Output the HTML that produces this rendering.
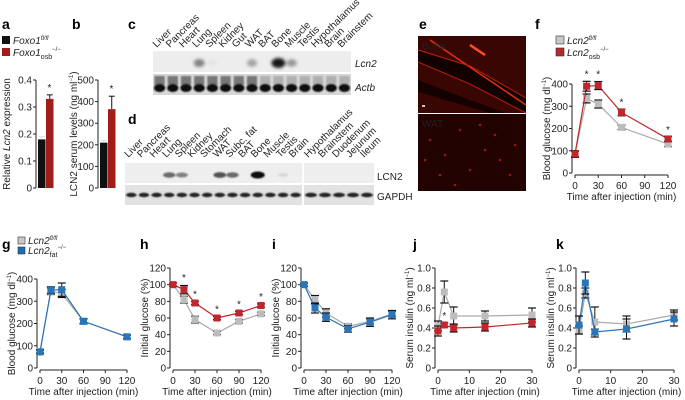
<!DOCTYPE html>
<html><head><meta charset="utf-8"><style>
html,body{margin:0;padding:0;background:#fff}
svg{display:block;font-family:"Liberation Sans",Arial,sans-serif}
.t{font-size:10px;fill:#222}
.pl{font-size:14px;font-weight:bold;fill:#000}
</style></head><body>
<svg id="fig" width="685" height="400" viewBox="0 0 685 400" xmlns="http://www.w3.org/2000/svg">
<defs>
<filter id="bl" x="-50%" y="-50%" width="200%" height="200%"><feGaussianBlur stdDeviation="1.6"/></filter>
<filter id="bl2" x="-50%" y="-50%" width="200%" height="200%"><feGaussianBlur stdDeviation="0.8"/></filter>
</defs>
</svg>
<script>
// ---- data ----
const aValues=[0.18,0.33]; const aErr=[0.01,0.015];
const bValues=[210,365]; const bErr=[10,60];
const cLanes=["Liver","Pancreas","Heart","Lung","Spleen","Kidney","Gut","WAT","BAT","Bone","Muscle","Testis","Hypothalamus","Brain","Brainstem"];
const cLcn2=[0,0,0,0.5,0.05,0,0,0.35,0,1,0.4,0,0,0,0];
const dLanes1=["Liver","Pancreas","Heart","Lung","Spleen","Kidney","Stomach","WAT","Subc. fat","BAT","Bone","Muscle","Testis","Brain"];
const dLanes2=["Hypothalamus","Brainstem","Duodenum","Jejunum","Ileum"];
const dLcn2=[0,0,0,0.6,0.5,0,0,0.7,0.6,0,1,0,0.1,0];
const fTimes=[0,15,30,60,120];
const fGrey=[85,335,310,205,130]; const fGreyErr=[12,20,18,10,12];
const fRed=[85,390,393,272,153]; const fRedErr=[15,22,18,15,12];
const gGrey=[75,345,335,210,140]; const gGreyErr=[8,15,18,10,8];
const gBlue=[72,350,352,210,140]; const gBlueErr=[8,15,30,12,8];
const hTimes=[0,15,30,60,90,120];
const hGrey=[100,82,58,42,56,65]; const hGreyErr=[2,4,4,2,2,2];
const hRed=[100,94,78,60,66,75]; const hRedErr=[2,5,2,2,2,2];
const iGrey=[100,82,66,50,56,65]; const iGreyErr=[2,5,5,3,3,3];
const iBlue=[100,72,61,47,55,64]; const iBlueErr=[2,6,5,4,5,5];
const jTimes=[0,2,5,15,30];
const jGrey=[0.42,0.76,0.52,0.52,0.53]; const jGreyErr=[0.05,0.11,0.09,0.05,0.07];
const jRed=[0.37,0.43,0.40,0.41,0.45]; const jRedErr=[0.05,0.02,0.04,0.04,0.04];
const kGrey=[0.38,0.75,0.46,0.44,0.53]; const kGreyErr=[0.04,0.05,0.15,0.08,0.05];
const kBlue=[0.43,0.85,0.36,0.39,0.49]; const kBlueErr=[0.09,0.11,0.03,0.1,0.07];

const NS="http://www.w3.org/2000/svg";
const svg=document.getElementById('fig');
function el(tag,attrs,parent,txt){const e=document.createElementNS(NS,tag);for(const k in attrs)e.setAttribute(k,attrs[k]);if(txt!==undefined)e.textContent=txt;(parent||svg).appendChild(e);return e;}
function text(x,y,s,opt,parent){opt=opt||{};const e=el('text',{x:x,y:y,'class':opt.cls||'t','text-anchor':opt.anchor||'start'},parent,s);if(opt.fill)e.setAttribute('fill',opt.fill);if(opt.rot!==undefined)e.setAttribute('transform','rotate('+opt.rot+' '+x+' '+y+')');if(opt.size)e.setAttribute('font-size',opt.size);if(opt.italic)e.setAttribute('font-style','italic');return e;}
function letter(x,y,s){const e=text(x,y,s,{cls:'pl'});

}
function line(x1,y1,x2,y2,st,w,p){return el('line',{x1:x1,y1:y1,x2:x2,y2:y2,stroke:st||'#222','stroke-width':w||1},p);}

function yAxis(g,x,ticks,ys,labFmt){line(x,ys(ticks[0]),x,ys(ticks[ticks.length-1]),'#222',1,g);ticks.forEach(t=>{line(x-3,ys(t),x,ys(t),'#222',1,g);text(x-4,ys(t)+3.5,labFmt?labFmt(t):String(t),{anchor:'end'},g);});}
function xAxis(g,y,ticks,xs){line(xs(ticks[0]),y,xs(ticks[ticks.length-1]),y,'#222',1,g);ticks.forEach(t=>{line(xs(t),y,xs(t),y+3,'#222',1,g);text(xs(t),y+14,String(t),{anchor:'middle'},g);});}

// ---------- Panel a ----------
letter(2,29,'a');
(function(){const g=el('g',{});
 const y0=188,y1=80,ys=v=>y0-(v/0.4)*(y0-y1);
 const cols=['#111','#a21c1a'];const bx=[38,46];
 aValues.forEach((v,i)=>{const r=el('rect',{x:bx[i],y:ys(v),width:7.5,height:y0-ys(v),fill:cols[i]},g);
  
  const cx=bx[i]+3.75;line(cx,ys(v),cx,ys(v+aErr[i]),i?'#111':'#ddd',1,g);line(cx-3,ys(v+aErr[i]),cx+3,ys(v+aErr[i]),i?'#111':'#ddd',1,g);});
 text(49.5,ys(0.33+0.015)-4,'*',{anchor:'middle'},g);
 yAxis(g,36,[0,0.1,0.2,0.3,0.4],ys,t=>t===0?'0':t.toFixed(1));
 const yl=text(10,134,'',{anchor:'middle',rot:-90},g);yl.innerHTML='Relative <tspan font-style="italic">Lcn2</tspan> expression';
 el('rect',{x:2,y:36,width:8,height:8,fill:'#111'},g);el('rect',{x:2,y:48,width:8,height:8,fill:'#a21c1a'},g);
 const l1=text(13,44,'',{},g);l1.innerHTML='<tspan font-style="italic">Foxo1</tspan><tspan font-size="6" dy="-4" font-style="italic">fl/fl</tspan>';
 const l2=text(13,56,'',{},g);l2.innerHTML='<tspan font-style="italic">Foxo1</tspan><tspan font-size="7" dy="3">osb</tspan><tspan font-size="6" dy="-8">−/−</tspan>';
})();

// ---------- Panel b ----------
letter(72,29,'b');
(function(){const g=el('g',{});
 const y0=188,y1=80,ys=v=>y0-(v/500)*(y0-y1);const cols=['#111','#a21c1a'];const bx=[100,108];
 bValues.forEach((v,i)=>{const r=el('rect',{x:bx[i],y:ys(v),width:7.5,height:y0-ys(v),fill:cols[i]},g);
  
  const cx=bx[i]+3.75;line(cx,ys(v),cx,ys(v+bErr[i]),i?'#111':'#ddd',1,g);line(cx-3,ys(v+bErr[i]),cx+3,ys(v+bErr[i]),i?'#111':'#ddd',1,g);});
 text(111.5,ys(365+60)-4,'*',{anchor:'middle'},g);
 yAxis(g,98,[0,100,200,300,400,500],ys);
 const yl=text(77,134,'',{anchor:'middle',rot:-90},g);yl.innerHTML='LCN2 serum levels (ng ml<tspan font-size="6" dy="-4">−1</tspan><tspan dy="4">)</tspan>';
})();

// ---------- Panel c ----------
letter(128,29,'c');
(function(){const g=el('g',{});
 const x0=153,x1=351,w=(x1-x0)/cLanes.length;
 el('rect',{x:x0,y:51,width:x1-x0,height:21,fill:'#ededed'},g);
 el('rect',{x:x0,y:74,width:x1-x0,height:21,fill:'#d8d8d8'},g);
 cLanes.forEach((n,i)=>{const cx=x0+w*i+w/2;
  text(cx-3,48,n,{rot:-45,fill:n==='Bone'?'#d2322d':'#222'},g);
  if(cLcn2[i]>0){el('ellipse',{cx:cx,cy:63,rx:4+3*cLcn2[i],ry:3+2*cLcn2[i],fill:'#000','fill-opacity':Math.min(1,cLcn2[i]*0.9),filter:'url(#bl)'},g);}
  el('rect',{x:cx-w/2+1.5,y:76,width:w-3,height:9,fill:'#555',filter:'url(#bl2)','fill-opacity':i<8?0.75:0.3},g);
  el('ellipse',{cx:cx,cy:88,rx:w/2-1,ry:4,fill:'#111',filter:'url(#bl2)'},g);
 });
 text(355,67,'Lcn2',{italic:true},g);text(355,91,'Actb',{italic:true},g);
})();

// ---------- Panel d ----------
letter(128,124,'d');
(function(){const g=el('g',{});
 const segs=[[125,302,dLanes1],[304,374,dLanes2]];
 segs.forEach((s,si)=>{const [x0,x1,lanes]=s,w=(x1-x0)/lanes.length;
  el('rect',{x:x0,y:163,width:x1-x0,height:20,fill:'#eeeeee'},g);
  el('rect',{x:x0,y:185,width:x1-x0,height:20,fill:'#e2e2e2'},g);
  lanes.forEach((n,i)=>{const cx=x0+w*i+w/2;
   text(cx-3,158,n,{rot:-45,fill:n==='Bone'?'#d2322d':'#222'},g);
   const v=si===0?dLcn2[i]:0;
   if(v>0)el('ellipse',{cx:cx,cy:175,rx:5+2*v,ry:1.5+2*v,fill:'#111','fill-opacity':v,filter:'url(#bl2)'},g);
   el('ellipse',{cx:cx,cy:195,rx:w/2-1,ry:2.2,fill:'#222',filter:'url(#bl2)'},g);
  });});
 text(377,180,'LCN2',{},g);text(377,200,'GAPDH',{},g);
})();

// ---------- Panel e ----------
letter(419,29,'e');
(function(){const g=el('g',{});
 el('rect',{x:418,y:36,width:108,height:77,fill:'#3a0603'},g);
 el('path',{d:'M418 62 L470 84 L526 113 L526 98 L470 66 L418 50Z',fill:'#120100'},g);
 el('path',{d:'M418 80 L470 100 L505 113 L490 113 L418 92Z',fill:'#150100'},g);
 el('path',{d:'M430 40 L526 105',stroke:'#e0300f','stroke-width':1.5,fill:'none'},g);
 el('path',{d:'M470 45 L485 55',stroke:'#ff5020','stroke-width':2.5,fill:'none'},g);
 el('path',{d:'M418 50 L470 66 L526 98',stroke:'#c0200c','stroke-width':1,fill:'none'},g);
 el('path',{d:'M418 62 L470 84 L526 113',stroke:'#b01c0a','stroke-width':1,fill:'none'},g);
 line(422,106,425,106,'#fff',1.5,g);
 text(422,49,'Bone',{fill:'#ddd'},g);
 el('rect',{x:418,y:114,width:108,height:77,fill:'#220301'},g);
 [[430,140],[445,155],[470,170],[500,160],[510,175],[460,130],[485,150],[440,175],[425,160],[495,135],[515,145],[455,185],[480,125]].forEach(p=>el('circle',{cx:p[0],cy:p[1],r:1.3,fill:'#9a1808'},g));
 text(422,127,'WAT',{fill:'#ddd'},g);
})();

function lineChart(name,cfg){const g=el('g',{});
 const xs=v=>cfg.x0+(v-cfg.xt[0])/(cfg.xt[cfg.xt.length-1]-cfg.xt[0])*(cfg.x1-cfg.x0);
 const ys=v=>cfg.y0-(v-cfg.yt[0])/(cfg.yt[cfg.yt.length-1]-cfg.yt[0])*(cfg.y0-cfg.y1);
 yAxis(g,cfg.x0-3,cfg.yt,ys,cfg.fmt);
 xAxis(g,cfg.y0+2,cfg.xt,xs);
 text((cfg.x0+cfg.x1)/2,cfg.y0+27,'Time after injection (min)',{anchor:'middle'},g);
 const yl=text(cfg.x0-25,(cfg.y0+cfg.y1)/2,'',{anchor:'middle',rot:-90},g);yl.innerHTML=cfg.ylab;
 cfg.series.forEach(s=>{const sg=el('g',{},g);
  const pts=s.vals.map((v,i)=>xs(cfg.times[i])+','+ys(v)).join(' ');
  el('polyline',{points:pts,fill:'none',stroke:s.line,'stroke-width':1.2},sg);
  s.vals.forEach((v,i)=>{const x=xs(cfg.times[i]),y=ys(v),e=s.err[i];
   line(x,ys(v-e),x,ys(v+e),'#111',1,sg);line(x-4,ys(v+e),x+4,ys(v+e),'#111',1.2,sg);line(x-4,ys(v-e),x+4,ys(v-e),'#111',1.2,sg);
   const m=el('rect',{x:x-3.5,y:y-3.5,width:7,height:7,fill:s.fill},sg);
   });
 });
 (cfg.stars||[]).forEach(st=>text(xs(st[0]),ys(st[1])-2,'*',{anchor:'middle'},g));
 return g;}

letter(535,29,'f');
(function(){const g=el('g',{});
 el('rect',{x:556,y:36,width:8,height:8,fill:'#c8c8c8',stroke:'#333','stroke-width':0.6},g);
 el('rect',{x:556,y:48,width:8,height:8,fill:'#b5282c',stroke:'#333','stroke-width':0.6},g);
 const l1=text(567,44,'',{},g);l1.innerHTML='<tspan font-style="italic">Lcn2</tspan><tspan font-size="6" dy="-4" font-style="italic">fl/fl</tspan>';
 const l2=text(567,56,'',{},g);l2.innerHTML='<tspan font-style="italic">Lcn2</tspan><tspan font-size="7" dy="3">osb</tspan><tspan font-size="6" dy="-8">−/−</tspan>';})();
lineChart('panel-f-chart',{x0:575,x1:668,y0:173,y1:84,xt:[0,30,60,90,120],yt:[0,100,200,300,400],times:fTimes,
 ylab:'Blood glucose (mg dl<tspan font-size="6" dy="-4">−1</tspan><tspan dy="4">)</tspan>',
 series:[{name:'series-lcn2-flfl',vals:fGrey,err:fGreyErr,fill:'#bcbcbc',line:'#aaa'},{name:'series-lcn2-osb',vals:fRed,err:fRedErr,fill:'#c0272d',line:'#c0272d'}],
 stars:[[15,420],[30,420],[60,295],[120,170]]});

letter(2,249,'g');
(function(){const g=el('g',{});
 el('rect',{x:18,y:237,width:7,height:7,fill:'#c8c8c8',stroke:'#333','stroke-width':0.6},g);
 el('rect',{x:18,y:247,width:7,height:7,fill:'#1f6db3',stroke:'#333','stroke-width':0.6},g);
 const l1=text(28,244,'',{},g);l1.innerHTML='<tspan font-style="italic">Lcn2</tspan><tspan font-size="6" dy="-4" font-style="italic">fl/fl</tspan>';
 const l2=text(28,254,'',{},g);l2.innerHTML='<tspan font-style="italic">Lcn2</tspan><tspan font-size="7" dy="3">fat</tspan><tspan font-size="6" dy="-8">−/−</tspan>';})();
letter(140,249,'h');letter(272,249,'i');letter(413,249,'j');letter(556,249,'k');

const grey={fill:'#bcbcbc',line:'#aaa'},blue={fill:'#2a74b8',line:'#2a74b8'},red={fill:'#c0272d',line:'#c0272d'};
const glabel='Blood glucose (mg dl<tspan font-size="6" dy="-4">−1</tspan><tspan dy="4">)</tspan>';
const ilabel='Serum insulin (ng ml<tspan font-size="6" dy="-4">−1</tspan><tspan dy="4">)</tspan>';
lineChart('panel-g-chart',{x0:40,x1:127,y0:368,y1:279,xt:[0,30,60,90,120],yt:[0,100,200,300,400],times:fTimes,ylab:glabel,
 series:[Object.assign({name:'series-lcn2-flfl',vals:gGrey,err:gGreyErr},grey),Object.assign({name:'series-lcn2-fat',vals:gBlue,err:gBlueErr},blue)]});
lineChart('panel-h-chart',{x0:173,x1:261,y0:368,y1:268,xt:[0,30,60,90,120],yt:[0,20,40,60,80,100,120],times:hTimes,ylab:'Initial glucose (%)',
 series:[Object.assign({name:'series-lcn2-flfl',vals:hGrey,err:hGreyErr},grey),Object.assign({name:'series-lcn2-osb',vals:hRed,err:hRedErr},red)],
 stars:[[15,102],[30,82],[60,64],[90,70],[120,79]]});
lineChart('panel-i-chart',{x0:304,x1:392,y0:368,y1:268,xt:[0,30,60,90,120],yt:[0,20,40,60,80,100,120],times:hTimes,ylab:'Initial glucose (%)',
 series:[Object.assign({name:'series-lcn2-flfl',vals:iGrey,err:iGreyErr},grey),Object.assign({name:'series-lcn2-fat',vals:iBlue,err:iBlueErr},blue)]});
const f1=t=>t===0?'0':t.toFixed(1);
lineChart('panel-j-chart',{x0:438,x1:532,y0:368,y1:268,xt:[0,10,20,30],yt:[0,0.2,0.4,0.6,0.8,1.0],fmt:f1,times:jTimes,ylab:ilabel,
 series:[Object.assign({name:'series-lcn2-flfl',vals:jGrey,err:jGreyErr},grey),Object.assign({name:'series-lcn2-osb',vals:jRed,err:jRedErr},red)],
 stars:[[2,0.47]]});
lineChart('panel-k-chart',{x0:579,x1:674,y0:368,y1:268,xt:[0,10,20,30],yt:[0,0.2,0.4,0.6,0.8,1.0],fmt:f1,times:jTimes,ylab:ilabel,
 series:[Object.assign({name:'series-lcn2-flfl',vals:kGrey,err:kGreyErr},grey),Object.assign({name:'series-lcn2-fat',vals:kBlue,err:kBlueErr},blue)]});
</script>
</body></html>
